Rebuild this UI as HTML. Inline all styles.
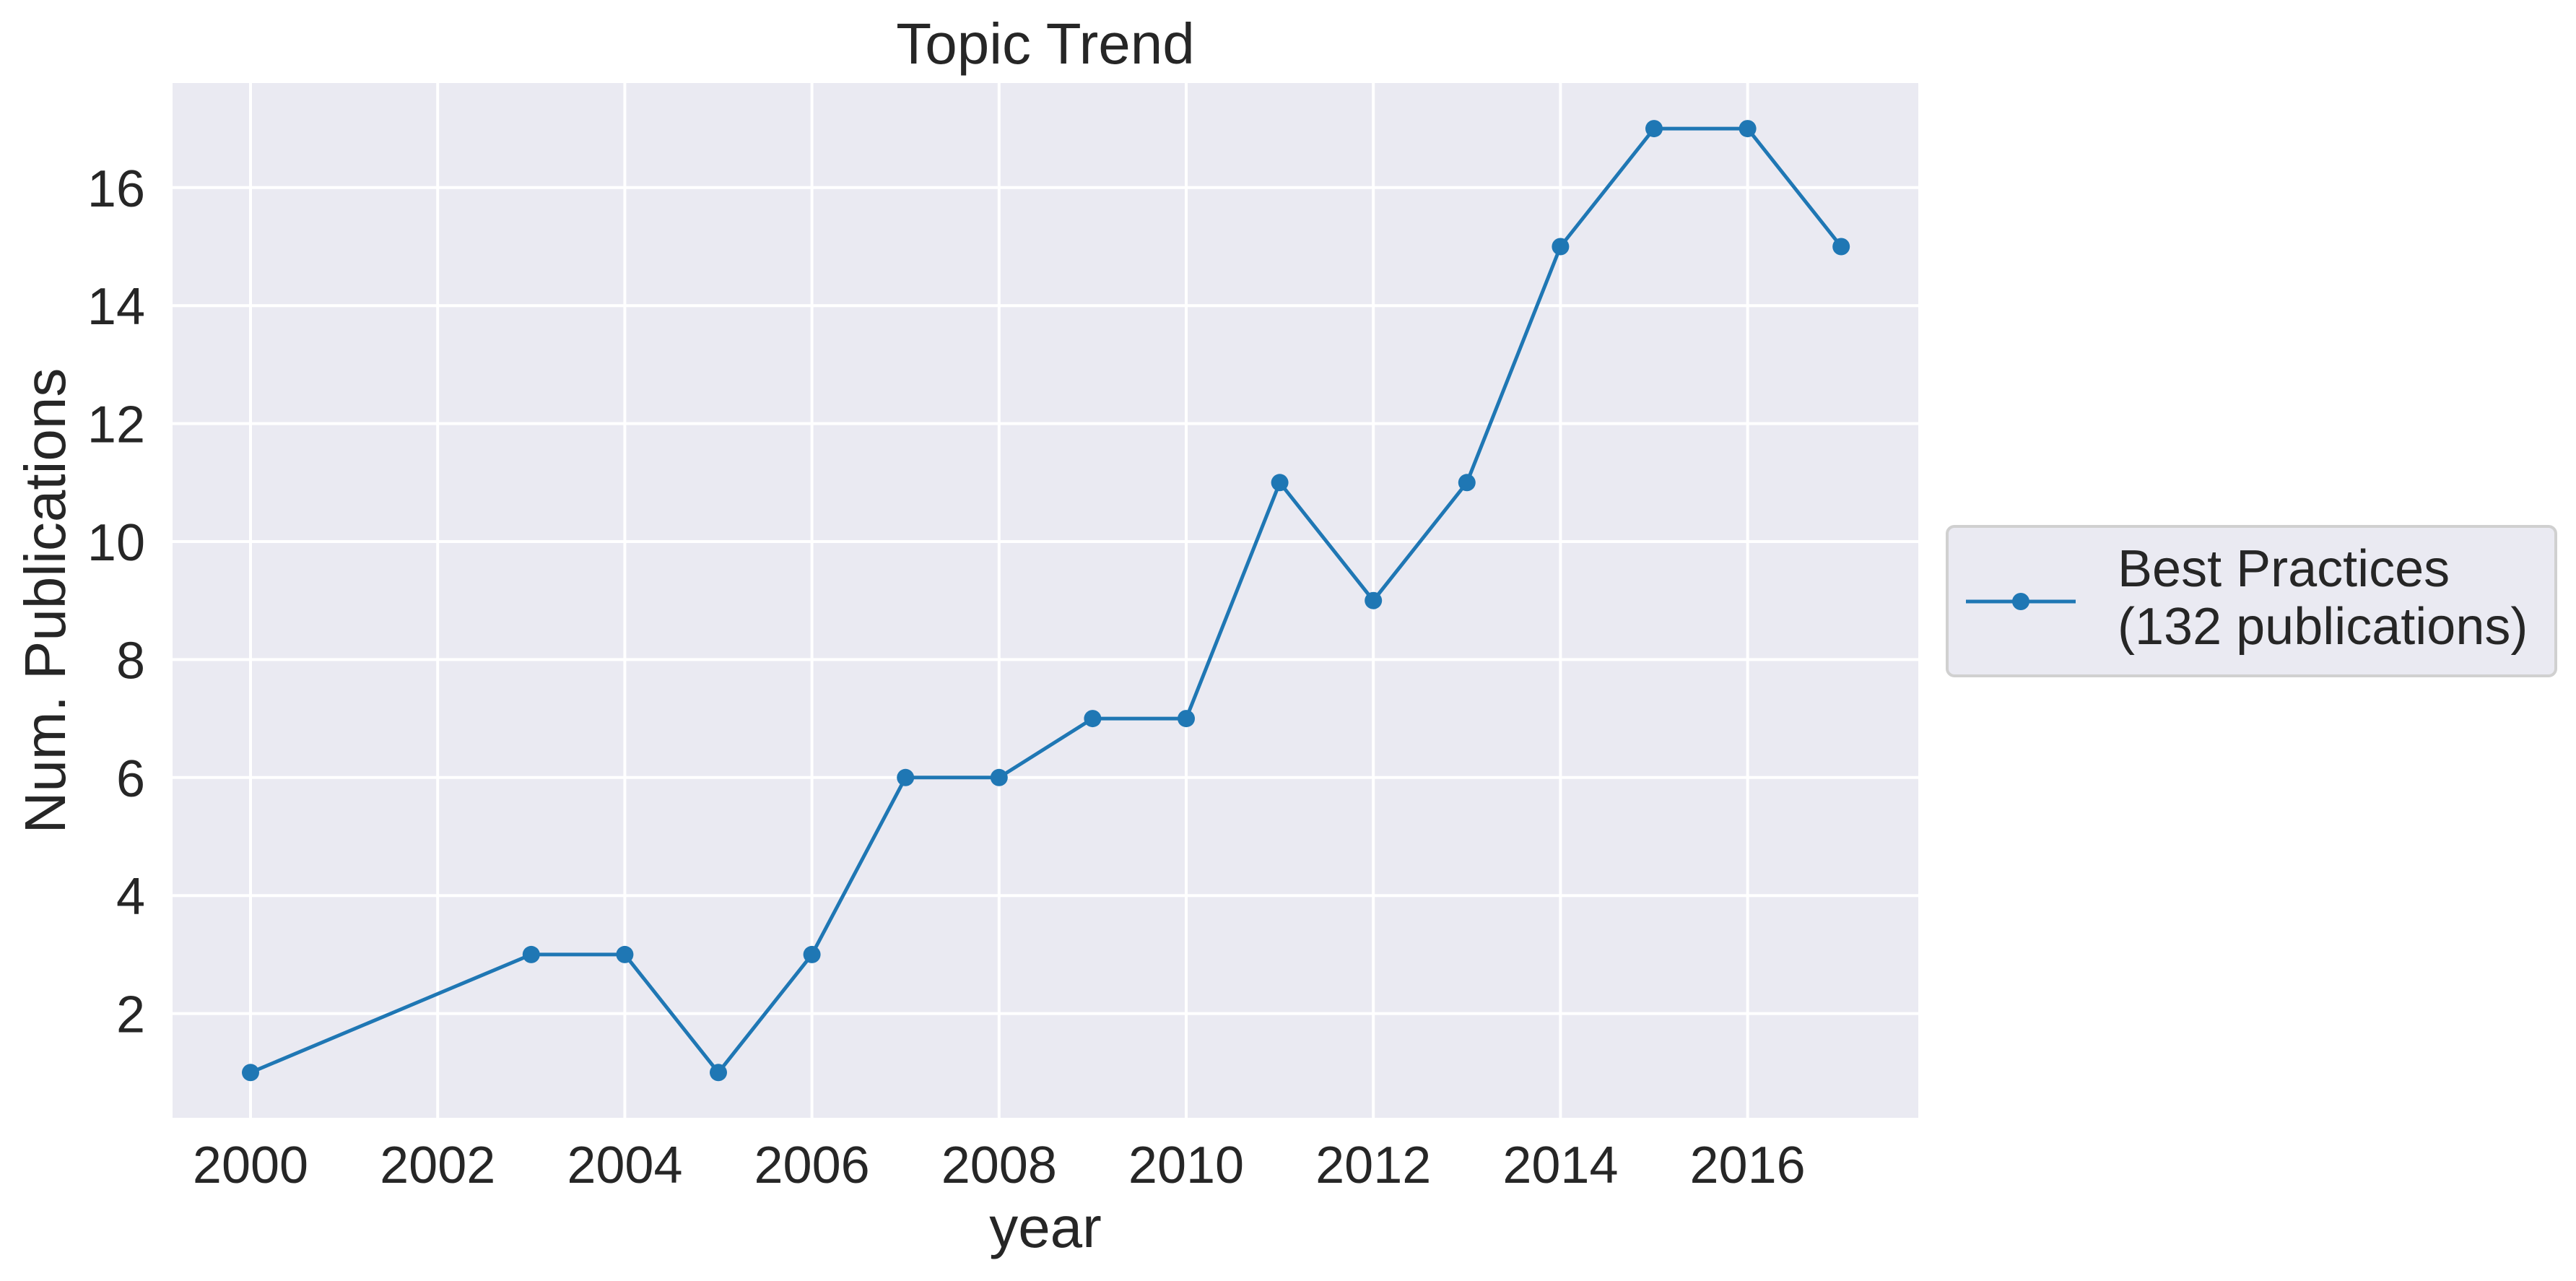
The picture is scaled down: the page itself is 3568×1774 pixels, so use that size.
<!DOCTYPE html>
<html><head><meta charset="utf-8"><style>
html,body{margin:0;padding:0;background:#fff;}
svg{display:block;font-family:"Liberation Sans",sans-serif;}
</style></head><body>
<svg id="chart" width="3568" height="1774" viewBox="0 0 3568 1774" xmlns="http://www.w3.org/2000/svg">
<rect x="239" y="115" width="2418" height="1433" fill="#eaeaf2"/>
<g id="grid"></g>
<g id="series"></g>
<g id="ticks" fill="#262626" font-size="72"></g>
<text x="1448" y="88" font-size="80" fill="#262626" text-anchor="middle">Topic Trend</text>
<text x="1448" y="1727" font-size="80" fill="#262626" text-anchor="middle">year</text>
<text x="0" y="0" font-size="80" fill="#262626" text-anchor="middle" transform="translate(90,832) rotate(-90)">Num. Publications</text>
<g>
<rect x="2697" y="729" width="843" height="207" rx="10" fill="#eaeaf2" stroke="#d0d0d0" stroke-width="4"/>
<line x1="2723" y1="833" x2="2875" y2="833" stroke="#1f77b4" stroke-width="5"/>
<circle cx="2799" cy="833" r="12" fill="#1f77b4"/>
<text x="2933" y="812" font-size="72" fill="#262626">Best Practices</text>
<text x="2933" y="892" font-size="72" fill="#262626">(132 publications)</text>
</g>
</svg>
<script>
const years = [2000, 2003, 2004, 2005, 2006, 2007, 2008, 2009, 2010, 2011, 2012, 2013, 2014, 2015, 2016, 2017];
const counts = [1, 3, 3, 1, 3, 6, 6, 7, 7, 11, 9, 11, 15, 17, 17, 15];
const xTicks = [2000, 2002, 2004, 2006, 2008, 2010, 2012, 2014, 2016];
const yTicks = [2, 4, 6, 8, 10, 12, 14, 16];

const NS = "http://www.w3.org/2000/svg";
const PL = 239, PR = 2657, PT = 115, PB = 1548;
const xScale = v => 347 + (v - 2000) * 129.6;
const yScale = v => 1567 - v * 81.7;
function mk(tag, attrs, parent){const e=document.createElementNS(NS,tag);for(const k in attrs)e.setAttribute(k,attrs[k]);parent.appendChild(e);return e;}
const grid=document.getElementById('grid'), ticks=document.getElementById('ticks'), series=document.getElementById('series');
xTicks.forEach(t=>{
  const l=mk('line',{x1:xScale(t),x2:xScale(t),y1:PT,y2:PB,stroke:'#fff','stroke-width':4},grid);
  
  
  const tx=mk('text',{x:xScale(t),y:1638,'text-anchor':'middle'},ticks);
  tx.textContent=t;
  
  
});
yTicks.forEach(t=>{
  const l=mk('line',{x1:PL,x2:PR,y1:yScale(t),y2:yScale(t),stroke:'#fff','stroke-width':4},grid);
  
  
  const tx=mk('text',{x:201,y:yScale(t)+26,'text-anchor':'end'},ticks);
  tx.textContent=t;
  
  
});
const pts=years.map((y,i)=>xScale(y)+','+yScale(counts[i])).join(' ');
const pl=mk('polyline',{points:pts,fill:'none',stroke:'#1f77b4','stroke-width':5,'stroke-linejoin':'round'},series);


years.forEach((y,i)=>{
  const c=mk('circle',{cx:xScale(y),cy:yScale(counts[i]),r:12,fill:'#1f77b4'},series);
  
  
});
</script>
</body></html>
